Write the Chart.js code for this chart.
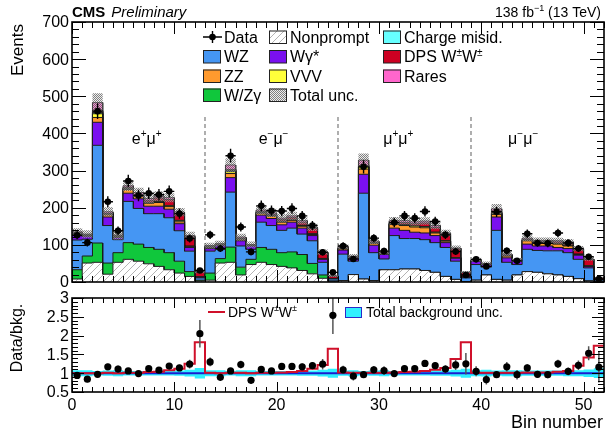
<!DOCTYPE html>
<html>
<head>
<meta charset="utf-8">
<title>Same-sign WW bins</title>
<script src="https://cdn.jsdelivr.net/npm/chart.js@4.4.1/dist/chart.umd.min.js"></script>
<style>
  body { margin: 0; background: #fff; }
  #wrap { position: relative; width: 606px; height: 430px; }
  #wrap canvas { position: absolute; left: 0; }
  #mainChart { top: 0; }
  #ratioChart { top: 290px; }
</style>
</head>
<body>
<div id="wrap">
  <canvas id="mainChart" width="606" height="290"></canvas>
  <canvas id="ratioChart" width="606" height="140"></canvas>
</div>
<script>
// values, 52 bins (e+mu+, e-mu-, mu+mu+, mu-mu-)
const nonprompt   = [8,51,53,21,53,61,56,49,42,33,24,15,3, 5,51,53,19,47,53,47,42,38,31,22,10,2, 4,20,8,4,33,33,35,35,31,26,15,7,1, 5,19,7,5,19,28,26,22,19,15,9,3,1];
const wzGamma     = [25,19,52,30,26,45,46,44,46,46,32,13,2, 19,12,41,21,14,40,41,37,43,43,28,9,1, 0,0,0,0,0,0,0,0,0,0,0,0,0, 0,0,0,0,0,0,0,0,0,0,0,0,0];
const wz          = [80,45,263,101,35,111,96,91,96,94,82,55,6, 59,25,148,57,27,68,64,60,64,55,61,34,5, 71,36,231,75,29,92,82,82,83,80,78,49,10, 42,21,132,48,28,60,59,62,65,64,52,35,4];
const wGammaStar  = [12,8,62,23,6,22,26,20,20,23,19,10,2, 7,11,39,14,9,19,19,15,16,16,14,8,1, 11,9,51,20,12,20,22,17,18,19,13,8,2, 9,7,36,12,9,14,12,13,9,11,11,4,1];
const zz          = [3,2,13,6,2,10,6,8,10,7,5,2,0.5, 2,1,11,4,1,5,6,7,5,5,3,1,0.3, 3,1,14,5,2,10,13,14,14,7,4,1,0.5, 1,1,7,5,1,9,7,7,9,7,2,1,0.3];
const vvv         = [1,1,10,2,1,3,3,2,3,2,3,1,0.3, 1,0.5,5,1,0.5,2,2,2,2,2,1,0.5,0.2, 1,0.5,6,1,1,2,3,3,3,2,1,0.5,0.2, 0.5,0.5,3,1,0.5,2,2,2,2,2,1,0.5,0.1];
const chargeMisid = [2,1,3,1,1,1,1,1,1,1,1,1,0.5, 2,1,3,1,1,1,1,1,1,1,1,1,0.3, 0,0,0,0,0,0,0,0,0,0,0,0,0, 0,0,0,0,0,0,0,0,0,0,0,0,0];
const dpsWW       = [2,0.5,5,1,0.5,2,2,5,8,16,18,25,12, 1,0.5,3,1,0.5,2,2,4,5,8,14,15,6, 2,1,4,1,1,3,5,6,10,13,17,24,12, 1,0.5,3,1,0.5,2,3,3,4,6,13,17,5];
const rares       = [2,1.5,22,4,2,4,5,5,5,5,4,3,1.5, 2,1,12,3,1,4,4,4,4,4,3,2,0.7, 3,2,14,4,2,5,5,5,5,5,4,2,1, 1.5,1,9,3,1.5,3,3,3,3,3,2,1.5,0.6];
const totalUnc    = [10,10,25,12,12,14,13,13,13,12,11,10,4, 8,8,18,9,8,12,11,11,11,10,10,7,3, 7,6,18,8,6,10,10,10,10,10,9,7,3, 5,5,13,6,5,8,8,8,8,8,7,5,2];
const observed    = [126,106,460,216,138,272,233,239,235,244,184,117,31, 127,90,340,148,81,205,192,191,198,178,152,80,26, 97,62,310,118,83,160,178,172,190,163,127,82,19, 61,42,189,84,57,130,105,104,132,105,90,68,8];

// ratio panel
const ratioData   = [0.94,0.84,0.97,1.17,1.11,1.06,0.99,1.12,1.08,1.19,1.14,1.24,2.05, 1.30,0.89,1.06,1.23,0.81,1.10,1.06,1.18,1.18,1.17,1.20,1.24,2.54, 1.09,0.92,0.96,1.09,1.07,0.99,1.12,1.12,1.26,1.20,1.11,1.22,1.25, 1.05,0.83,0.96,1.17,0.96,1.14,0.97,0.96,1.25,1.05,1.21,1.53,1.16];
const dpsRatio    = [1.0,1.0,1.0,1.01,1.0,1.01,1.01,1.03,1.04,1.08,1.12,1.25,1.82, 1.01,1.0,1.01,1.01,1.0,1.01,1.01,1.02,1.03,1.06,1.12,1.22,1.65, 1.02,1.01,1.01,1.01,1.01,1.02,1.03,1.04,1.06,1.09,1.14,1.38,1.82, 1.01,1.01,1.01,1.01,1.01,1.02,1.02,1.02,1.04,1.06,1.2,1.42,1.73];
const bkgUncRatio = [0.08,0.08,0.06,0.07,0.08,0.06,0.06,0.06,0.06,0.06,0.07,0.09,0.14, 0.08,0.08,0.06,0.08,0.08,0.06,0.06,0.06,0.06,0.07,0.07,0.09,0.12, 0.07,0.08,0.06,0.07,0.08,0.06,0.06,0.06,0.06,0.07,0.07,0.09,0.12, 0.08,0.09,0.07,0.08,0.08,0.07,0.07,0.07,0.07,0.08,0.08,0.10,0.13];

const channelLabels = ['e⁺μ⁺', 'e⁻μ⁻', 'μ⁺μ⁺', 'μ⁻μ⁻'];
const channelEdges = [13, 26, 39];
const xTicks = [0, 10, 20, 30, 40, 50];
const yTicksMain = [0, 100, 200, 300, 400, 500, 600, 700];
const yTicksRatio = [0.5, 1, 1.5, 2, 2.5, 3];

const nBins = observed.length;
const FONT = '"Liberation Sans", Arial, Helvetica, sans-serif';

function makeHatch() {
    const c = document.createElement('canvas');
    c.width = 7; c.height = 7;
    const g = c.getContext('2d');
    g.fillStyle = '#fff';
    g.fillRect(0, 0, 7, 7);
    g.strokeStyle = '#b4b4b4';
    g.lineWidth = 1;
    g.beginPath();
    g.moveTo(0, 7); g.lineTo(7, 0);
    g.moveTo(-1, 1); g.lineTo(1, -1);
    g.moveTo(6, 8); g.lineTo(8, 6);
    g.stroke();
    return g.createPattern(c, 'repeat');
}

function makeCheck() {
    const c = document.createElement('canvas');
    c.width = 2; c.height = 2;
    const g = c.getContext('2d');
    g.fillStyle = 'rgba(85,85,85,0.75)';
    g.fillRect(0, 0, 1, 1); g.fillRect(1, 1, 1, 1);
    g.fillStyle = 'rgba(215,215,215,0.45)';
    g.fillRect(1, 0, 1, 1); g.fillRect(0, 1, 1, 1);
    return g.createPattern(c, 'repeat');
}

const hatch = makeHatch();
const check = makeCheck();

// stack order bottom -> top
const components = [
    { name: 'Nonprompt', values: nonprompt, color: hatch },
    { name: 'W/Zγ', values: wzGamma, color: '#10c73c' },
    { name: 'WZ', values: wz, color: '#4596f3' },
    { name: 'Wγ*', values: wGammaStar, color: '#7a10ef' },
    { name: 'ZZ', values: zz, color: '#ff9a2e' },
    { name: 'VVV', values: vvv, color: '#ffff3a' },
    { name: 'Charge misid.', values: chargeMisid, color: '#66ffff' },
    { name: 'DPS W±W±', values: dpsWW, color: '#cc0022' },
    { name: 'Rares', values: rares, color: '#ff66cc' }
];

// histogram outline: two points per bin (lower and upper edge)
function steps(vals) {
    const pts = [];
    vals.forEach((v, i) => { pts.push({ x: i, y: v }, { x: i + 1, y: v }); });
    return pts;
}

function vErrors(vals, errs) {
    const pts = [];
    vals.forEach((v, i) => {
        pts.push({ x: i + 0.5, y: v - errs[i] }, { x: i + 0.5, y: v + errs[i] }, { x: i + 0.5, y: null });
    });
    return pts;
}

function hBars(vals) {
    const pts = [];
    vals.forEach((v, i) => { pts.push({ x: i, y: v }, { x: i + 1, y: v }, { x: i + 1, y: null }); });
    return pts;
}

function fontFor(p, size) {
    const s = p.sup ? Math.round(size * 0.62) : size;
    return `${p.style || ''} ${s}px ${FONT}`;
}

function drawRich(ctx, parts, x, y, size, align) {
    const widths = parts.map(p => { ctx.font = fontFor(p, size); return ctx.measureText(p.t).width; });
    const total = widths.reduce((a, b) => a + b, 0);
    let cx = align === 'right' ? x - total : align === 'center' ? x - total / 2 : x;
    ctx.textAlign = 'left';
    ctx.textBaseline = 'alphabetic';
    parts.forEach((p, i) => {
        ctx.font = fontFor(p, size);
        ctx.fillText(p.t, cx, p.sup ? y - size * 0.42 : y);
        cx += widths[i];
    });
}

// ROOT style frame with inward ticks on all four sides, plus tick labels
function frameTicks(opts) {
    return {
        id: 'frameTicks',
        afterDatasetsDraw(chart) {
            const { ctx, chartArea: a, scales: { x, y } } = chart;
            ctx.save();
            ctx.strokeStyle = '#000';
            ctx.lineWidth = 1;
            ctx.beginPath();
            const nx = Math.round((x.max - x.min) / opts.xMinor);
            for (let k = 0; k <= nx; k++) {
                const v = x.min + k * opts.xMinor;
                const major = Math.abs(v / opts.xMajor - Math.round(v / opts.xMajor)) < 1e-6;
                const len = major ? opts.xMajorLen : opts.xMinorLen;
                const px = Math.round(x.getPixelForValue(v)) + 0.5;
                ctx.moveTo(px, a.bottom); ctx.lineTo(px, a.bottom - len);
                ctx.moveTo(px, a.top); ctx.lineTo(px, a.top + len);
            }
            const ny = Math.round((y.max - y.min) / opts.yMinor);
            for (let k = 0; k <= ny; k++) {
                const v = y.min + k * opts.yMinor;
                const major = Math.abs(v / opts.yMajor - Math.round(v / opts.yMajor)) < 1e-6;
                const len = major ? opts.yMajorLen : opts.yMinorLen;
                const py = Math.round(y.getPixelForValue(v)) + 0.5;
                ctx.moveTo(a.left, py); ctx.lineTo(a.left + len, py);
                ctx.moveTo(a.right, py); ctx.lineTo(a.right - len, py);
            }
            ctx.stroke();
            ctx.lineWidth = 1.6;
            ctx.strokeRect(a.left, a.top, a.right - a.left, a.bottom - a.top);

            ctx.fillStyle = '#000';
            ctx.font = `16px ${FONT}`;
            ctx.textAlign = 'right';
            ctx.textBaseline = 'middle';
            y.ticks.forEach(t => { ctx.fillText(String(t.value), a.left - 3, y.getPixelForValue(t.value) + 1); });
            if (opts.xLabels) {
                ctx.textAlign = 'center';
                ctx.textBaseline = 'top';
                x.ticks.forEach(t => { ctx.fillText(String(t.value), x.getPixelForValue(t.value), a.bottom + 6); });
            }
            ctx.restore();
        }
    };
}

// ---------- main panel ----------
const cumulative = [];
let running = new Array(nBins).fill(0);
components.forEach(c => {
    running = running.map((r, i) => r + c.values[i]);
    cumulative.push(running);
});
const totalMC = running;

const mainDatasets = components.map((c, k) => ({
    label: c.name,
    data: steps(cumulative[k]),
    borderColor: '#1b1b1b',
    borderWidth: 1,
    backgroundColor: c.color,
    fill: k === 0 ? 'origin' : '-1',
    pointRadius: 0,
    order: 5
}));

const sepPoints = [];
channelEdges.forEach(e => { sepPoints.push({ x: e, y: 0 }, { x: e, y: 452 }, { x: e, y: null }); });
mainDatasets.push({
    label: 'sep', data: sepPoints, borderColor: '#7a7a7a', borderWidth: 1.2,
    borderDash: [4, 3], fill: false, pointRadius: 0, order: 10
});

const lowerIdx = mainDatasets.length;
mainDatasets.push({
    label: 'unc low', data: steps(totalMC.map((t, i) => t - totalUnc[i])),
    borderColor: 'transparent', fill: false, pointRadius: 0, order: -1
});
mainDatasets.push({
    label: 'Total unc.', data: steps(totalMC.map((t, i) => t + totalUnc[i])),
    borderColor: 'transparent', backgroundColor: check, fill: { target: lowerIdx },
    pointRadius: 0, order: -1
});

const dataErr = observed.map(d => Math.sqrt(d));
mainDatasets.push({
    label: 'data err', data: vErrors(observed, dataErr).concat(hBars(observed)),
    borderColor: '#000', borderWidth: 1.4, fill: false, pointRadius: 0, order: -2
});
mainDatasets.push({
    label: 'Data', data: observed.map((d, i) => ({ x: i + 0.5, y: d })),
    showLine: false, pointRadius: 3.3, pointBackgroundColor: '#000', pointBorderWidth: 0, order: -3
});

const mainText = {
    id: 'mainText',
    afterDraw(chart) {
        const { ctx, scales: { x, y } } = chart;
        ctx.save();
        ctx.fillStyle = '#000';
        // header
        drawRich(ctx, [{ t: 'CMS', style: 'bold' }], 72, 17, 15, 'left');
        ctx.font = `bold 15px ${FONT}`;
        const w = ctx.measureText('CMS').width;
        drawRich(ctx, [{ t: 'Preliminary', style: 'italic' }], 72 + w + 6, 17, 15, 'left');
        drawRich(ctx, [{ t: '138 fb' }, { t: '−1', sup: true }, { t: ' (13 TeV)' }], 601, 17, 14, 'right');

        // y title
        ctx.save();
        ctx.translate(18, 24);
        ctx.rotate(-Math.PI / 2);
        ctx.font = `17px ${FONT}`;
        ctx.textAlign = 'right';
        ctx.textBaseline = 'middle';
        ctx.fillText('Events', 0, 0);
        ctx.restore();

        // channel labels
        const labelPos = [7.3, 19.7, 31.9, 44.1];
        channelLabels.forEach((lab, i) => {
            const chars = Array.from(lab);
            const parts = [{ t: chars[0] }, { t: chars[1] === '⁺' ? '+' : '−', sup: true }, { t: chars[2] }, { t: chars[3] === '⁺' ? '+' : '−', sup: true }];
            drawRich(ctx, parts, x.getPixelForValue(labelPos[i]), y.getPixelForValue(372), 16, 'center');
        });

        // legend, three columns
        const colX = [203, 269, 383];
        const rowY = [37, 56.5, 76, 95];
        const entries = [
            [0, 0, 'Data', 'marker'], [0, 1, 'WZ', '#4596f3'], [0, 2, 'ZZ', '#ff9a2e'], [0, 3, 'W/Zγ', '#10c73c'],
            [1, 0, 'Nonprompt', hatch], [1, 1, 'Wγ*', '#7a10ef'], [1, 2, 'VVV', '#ffff3a'], [1, 3, 'Total unc.', check],
            [2, 0, 'Charge misid.', '#66ffff'], [2, 1, 'DPS W±W±', '#cc0022'], [2, 2, 'Rares', '#ff66cc']
        ];
        entries.forEach(([c, r, text, fill]) => {
            const bx = colX[c], yc = rowY[r];
            if (fill === 'marker') {
                ctx.strokeStyle = '#000';
                ctx.lineWidth = 1.4;
                ctx.beginPath();
                ctx.moveTo(bx, yc); ctx.lineTo(bx + 19, yc);
                ctx.moveTo(bx + 9.5, yc - 6); ctx.lineTo(bx + 9.5, yc + 6);
                ctx.stroke();
                ctx.beginPath();
                ctx.arc(bx + 9.5, yc, 3.3, 0, Math.PI * 2);
                ctx.fill();
            } else {
                ctx.fillStyle = '#fff';
                ctx.fillRect(bx, yc - 6.5, 18, 13);
                ctx.fillStyle = fill;
                ctx.fillRect(bx, yc - 6.5, 18, 13);
                ctx.strokeStyle = '#222';
                ctx.lineWidth = 1;
                ctx.strokeRect(bx + 0.5, yc - 6, 17, 12.5);
                ctx.fillStyle = '#000';
            }
            let parts = [{ t: text }];
            if (text === 'DPS W±W±') parts = [{ t: 'DPS W' }, { t: '±', sup: true }, { t: 'W' }, { t: '±', sup: true }];
            drawRich(ctx, parts, bx + 21, yc + 5.8, 16, 'left');
        });
        ctx.restore();
    }
};

new Chart(document.getElementById('mainChart'), {
    type: 'line',
    data: { datasets: mainDatasets },
    options: {
        responsive: false,
        animation: false,
        devicePixelRatio: 1,
        events: [],
        layout: { padding: { left: 0, right: 2, top: 22, bottom: 8 }, autoPadding: false },
        plugins: { legend: { display: false }, tooltip: { enabled: false } },
        elements: { line: { tension: 0 } },
        scales: {
            x: { type: 'linear', min: 0, max: nBins, display: false },
            y: {
                type: 'linear', min: 0, max: 700,
                afterBuildTicks: s => { s.ticks = yTicksMain.map(v => ({ value: v })); },
                afterFit: s => { s.width = 72; },
                grid: { display: false, drawTicks: false },
                border: { display: false },
                ticks: { display: false }
            }
        }
    },
    plugins: [frameTicks({ xMinor: 1, xMajor: 10, xMinorLen: 6, xMajorLen: 12, yMinor: 20, yMajor: 100, yMinorLen: 7, yMajorLen: 14 }), mainText]
});

// ---------- ratio panel ----------
const ratioDatasets = [];
ratioDatasets.push({
    label: 'band low', data: steps(bkgUncRatio.map(u => 1 - u)),
    borderColor: 'transparent', fill: false, pointRadius: 0, order: 6
});
ratioDatasets.push({
    label: 'Total background unc.', data: steps(bkgUncRatio.map(u => 1 + u)),
    borderColor: 'transparent', backgroundColor: '#2ff0ff', fill: { target: 0 }, pointRadius: 0, order: 6
});
ratioDatasets.push({
    label: 'unity', data: [{ x: 0, y: 1 }, { x: nBins, y: 1 }],
    borderColor: '#1c1cd0', borderWidth: 2, fill: false, pointRadius: 0, order: 4
});
ratioDatasets.push({
    label: 'DPS W±W±', data: steps(dpsRatio),
    borderColor: '#d0102a', borderWidth: 2, fill: false, pointRadius: 0, order: 3
});
ratioDatasets.push({
    label: 'ratio err', data: vErrors(ratioData, ratioData.map((r, i) => r / Math.sqrt(observed[i]))),
    borderColor: '#555', borderWidth: 1.5, fill: false, pointRadius: 0, order: 2
});
ratioDatasets.push({
    label: 'Data/bkg', data: ratioData.map((r, i) => ({ x: i + 0.5, y: r })),
    showLine: false, pointRadius: 3.6, pointBackgroundColor: '#000', pointBorderWidth: 0, order: 1
});

const ratioText = {
    id: 'ratioText',
    afterDraw(chart) {
        const { ctx } = chart;
        ctx.save();
        ctx.fillStyle = '#000';
        ctx.save();
        ctx.translate(18, 48);
        ctx.rotate(-Math.PI / 2);
        ctx.font = `16px ${FONT}`;
        ctx.textAlign = 'center';
        ctx.textBaseline = 'middle';
        ctx.fillText('Data/bkg.', 0, 0);
        ctx.restore();

        drawRich(ctx, [{ t: 'Bin number' }], 603, 138, 18, 'right');

        // legend
        ctx.strokeStyle = '#d0102a';
        ctx.lineWidth = 2;
        ctx.beginPath();
        ctx.moveTo(208, 22); ctx.lineTo(225, 22);
        ctx.stroke();
        drawRich(ctx, [{ t: 'DPS W' }, { t: '±', sup: true }, { t: 'W' }, { t: '±', sup: true }], 228, 27, 14, 'left');
        ctx.fillStyle = '#2ff0ff';
        ctx.fillRect(345, 17, 17, 11);
        ctx.strokeStyle = '#2a2ac8';
        ctx.lineWidth = 1;
        ctx.strokeRect(345.5, 17.5, 16, 10);
        ctx.fillStyle = '#000';
        drawRich(ctx, [{ t: 'Total background unc.' }], 366, 27, 14, 'left');
        ctx.restore();
    }
};

new Chart(document.getElementById('ratioChart'), {
    type: 'line',
    data: { datasets: ratioDatasets },
    options: {
        responsive: false,
        animation: false,
        devicePixelRatio: 1,
        events: [],
        layout: { padding: { left: 0, right: 2, top: 8, bottom: 0 }, autoPadding: false },
        plugins: { legend: { display: false }, tooltip: { enabled: false } },
        elements: { line: { tension: 0 } },
        scales: {
            x: {
                type: 'linear', min: 0, max: nBins,
                afterBuildTicks: s => { s.ticks = xTicks.map(v => ({ value: v })); },
                afterFit: s => { s.height = 38; },
                grid: { display: false, drawTicks: false },
                border: { display: false },
                ticks: { display: false }
            },
            y: {
                type: 'linear', min: 0.5, max: 3,
                afterBuildTicks: s => { s.ticks = yTicksRatio.map(v => ({ value: v })); },
                afterFit: s => { s.width = 72; },
                grid: { display: false, drawTicks: false },
                border: { display: false },
                ticks: { display: false }
            }
        }
    },
    plugins: [frameTicks({ xLabels: true, xMinor: 1, xMajor: 10, xMinorLen: 5, xMajorLen: 10, yMinor: 0.1, yMajor: 0.5, yMinorLen: 6, yMajorLen: 12 }), ratioText]
});
</script>
</body>
</html>
